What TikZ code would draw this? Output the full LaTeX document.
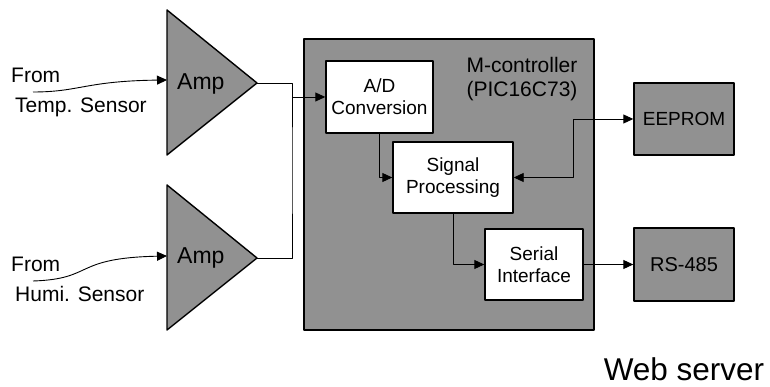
\documentclass[tikz,border=0pt]{standalone}
\usepackage{fontspec}
\setmainfont{Liberation Sans}
\usetikzlibrary{arrows.meta}
\definecolor{chipgray}{RGB}{145,145,145}
\tikzset{
  blk/.style={draw,line width=1.4,inner sep=0,align=center,font=\fontsize{19}{22}\selectfont},
  wblk/.style={blk,fill=white},
  gblk/.style={blk,fill=chipgray},
  lbl/.style={inner sep=0,font=\fontsize{21}{24}\selectfont},
  wire/.style={line width=0.9}
}
\begin{document}
\begin{tikzpicture}[x=1pt,y=1pt,line join=round,>={Triangle[length=10pt,width=9pt]}]
	\useasboundingbox (0,0) rectangle (770,387);
	% amplifiers
	\filldraw[fill=chipgray,line width=1.4] (167,377) -- (257,304) -- (167,232) -- cycle;
	\filldraw[fill=chipgray,line width=1.4] (167,202) -- (257,129) -- (167,57) -- cycle;
	\coordinate (amp1out) at (257,304);
	\coordinate (amp2out) at (257,129);
	\coordinate (amp1in) at (167,307);
	\coordinate (amp2in) at (167,131);
	\node[lbl,anchor=base west,font=\fontsize{23}{26}\selectfont] (amp1) at (177,297) {Amp};
	\node[lbl,anchor=base west,font=\fontsize{23}{26}\selectfont] (amp2) at (177,123) {Amp};
	% sensor inputs
	\node[lbl,anchor=base west] (from1) at (11,304) {From};
	\node[lbl,anchor=base west] (temp) at (15,274) {Temp. Sensor};
	\node[lbl,anchor=base west] (from2) at (11,115) {From};
	\node[lbl,anchor=base west] (humi) at (15,85) {Humi. Sensor};
	\coordinate (src1) at (33,295);
	\coordinate (src2) at (33,106);
	\draw[wire,->] (src1) .. controls (80,295) and (85,306) .. (amp1in);
	\draw[wire,->] (src2) .. controls (95,108) and (72,129) .. (amp2in);
	% micro-controller
	\node[gblk,minimum width=290,minimum height=291] (mc) at (449,202.5) {};
	\node[lbl,align=center] (mcname) at (522,308) {M-controller\\(PIC16C73)};
	\node[wblk,minimum width=107,minimum height=72] (ad) at (379.5,290) {A/D\\Conversion};
	\node[wblk,minimum width=120,minimum height=71] (sp) at (453,209.5) {Signal\\Processing};
	\node[wblk,minimum width=98,minimum height=71] (si) at (534,122.5) {Serial\\Interface};
	% peripherals
	\node[gblk,minimum width=100,minimum height=72] (ee) at (684,268) {EEPROM};
	\node[gblk,minimum width=100,minimum height=73,font=\fontsize{20}{22}\selectfont] (rs) at (684,122.5) {RS-485};
	\node[lbl,anchor=base,font=\fontsize{31.5}{34}\selectfont] (web) at (684,6) {Web server};
	% connections
	\coordinate (bus) at (292,217);
	\draw[wire] (amp1out) -| (bus) |- (amp2out);
	\draw[wire,->] (bus |- ad.west) -- (ad.west);
	\draw[wire,->] (ad.south) |- (sp.west);
	\draw[wire,->] (sp.south) |- (si.west);
	\draw[wire,<->] (sp.east) -- ++(60,0) |- (ee.west);
	\draw[wire,->] (si.east) -- (rs.west);
\end{tikzpicture}
\end{document}
